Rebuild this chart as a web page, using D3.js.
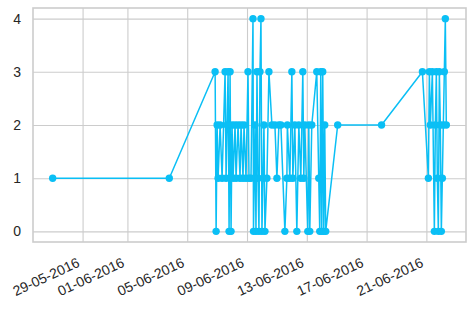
<!DOCTYPE html>
<html>
<head>
<meta charset="utf-8">
<script src="https://cdn.jsdelivr.net/npm/d3@7"></script>
<style>
    html, body { margin: 0; padding: 0; background: #fff; }
    svg { display: block; }
    .tick-label { font-family: "Liberation Sans", Arial, sans-serif; font-size: 14px; fill: #262626; }
</style>
</head>
<body>
<svg id="chart" width="474" height="312"></svg>
<script>
// readings taken as (timestamp, value) pairs
const timestamps = [
    "2016-05-27 00:00", "2016-06-03 19:12", "2016-06-06 20:48", "2016-06-06 22:24",
    "2016-06-07 00:00", "2016-06-07 01:36", "2016-06-07 04:48", "2016-06-07 08:00",
    "2016-06-07 12:48", "2016-06-07 14:24", "2016-06-07 16:00", "2016-06-07 17:36",
    "2016-06-07 19:12", "2016-06-07 20:48", "2016-06-07 22:24", "2016-06-08 00:00",
    "2016-06-08 01:36", "2016-06-08 04:48", "2016-06-08 06:24", "2016-06-08 09:36",
    "2016-06-08 12:48", "2016-06-08 14:24", "2016-06-08 17:36", "2016-06-08 19:12",
    "2016-06-08 22:24", "2016-06-09 01:36", "2016-06-09 03:12", "2016-06-09 06:24",
    "2016-06-09 09:36", "2016-06-09 10:24", "2016-06-09 12:48", "2016-06-09 14:24",
    "2016-06-09 16:00", "2016-06-09 17:36", "2016-06-09 19:12", "2016-06-09 20:48",
    "2016-06-09 22:24", "2016-06-10 00:00", "2016-06-10 01:36", "2016-06-10 03:12",
    "2016-06-10 04:48", "2016-06-10 08:00", "2016-06-10 11:12", "2016-06-10 16:00",
    "2016-06-10 20:48", "2016-06-11 00:00", "2016-06-11 03:12", "2016-06-11 06:24",
    "2016-06-11 12:48", "2016-06-11 16:00", "2016-06-11 16:48", "2016-06-11 20:48",
    "2016-06-12 00:00", "2016-06-12 01:36", "2016-06-12 04:48", "2016-06-12 08:00",
    "2016-06-12 11:12", "2016-06-12 14:24", "2016-06-12 17:36", "2016-06-12 19:12",
    "2016-06-12 20:48", "2016-06-13 01:36", "2016-06-13 03:12", "2016-06-13 04:48",
    "2016-06-13 08:00", "2016-06-13 16:00", "2016-06-13 19:12", "2016-06-13 20:48",
    "2016-06-13 22:24", "2016-06-14 00:00", "2016-06-14 01:36", "2016-06-14 03:12",
    "2016-06-14 04:48", "2016-06-14 06:24", "2016-06-15 01:36", "2016-06-18 00:00",
    "2016-06-20 17:36", "2016-06-21 03:12", "2016-06-21 04:48", "2016-06-21 06:24",
    "2016-06-21 09:36", "2016-06-21 12:48", "2016-06-21 14:24", "2016-06-21 16:00",
    "2016-06-21 17:36", "2016-06-21 19:12", "2016-06-21 20:48", "2016-06-21 22:24",
    "2016-06-22 00:00", "2016-06-22 01:36", "2016-06-22 03:12", "2016-06-22 04:48",
    "2016-06-22 06:24", "2016-06-22 08:00"
];
const values = [
    1, 1, 3, 0,
    2, 1, 2, 1,
    3, 1, 2, 3,
    0, 3, 0, 2,
    1, 2, 1, 2,
    1, 2, 1, 2,
    1, 3, 1, 1,
    4, 0, 2, 0,
    3, 1, 0, 3,
    4, 0, 1, 2,
    0, 1, 3, 2,
    2, 1, 2, 2,
    0, 1, 2, 1,
    3, 1, 2, 0,
    2, 1, 3, 1,
    2, 0, 2, 0,
    2, 3, 1, 0,
    3, 0, 3, 0,
    2, 0, 2, 2,
    3, 1, 3, 2,
    3, 0, 2, 3,
    1, 0, 3, 2,
    0, 1, 2, 3,
    4, 2
];
const x_tick_dates = ["2016-05-29", "2016-06-01", "2016-06-05", "2016-06-09", "2016-06-13", "2016-06-17", "2016-06-21"];
const y_ticks = [0, 1, 2, 3, 4];

function render() {
    const svg = d3.select('#chart');
    const left = 33, right = 466, top = 8, bottom = 242;
    const line_colour = '#0abff5';
    const grid_colour = '#cccccc';

    const parse_time = d3.timeParse('%Y-%m-%d %H:%M');
    const parse_day = d3.timeParse('%Y-%m-%d');
    const points = timestamps.map((t, i) => ({ t: parse_time(t), v: values[i] }));

    // 5% margins on both axes, like the original plotting library
    const [t0, t1] = d3.extent(points, d => d.t);
    const t_pad = (t1 - t0) * 0.05;
    const x = d3.scaleTime()
        .domain([new Date(+t0 - t_pad), new Date(+t1 + t_pad)])
        .range([left, right]);
    const [v0, v1] = d3.extent(points, d => d.v);
    const v_pad = (v1 - v0) * 0.05;
    const y = d3.scaleLinear()
        .domain([v0 - v_pad, v1 + v_pad])
        .range([bottom, top]);

    const tick_dates = x_tick_dates.map(parse_day);
    const fmt = d3.timeFormat('%d-%m-%Y');

    // grid
    svg.append('g')
        .attr('transform', `translate(0,${bottom})`)
        .call(d3.axisBottom(x).tickValues(tick_dates).tickSize(-(bottom - top)).tickFormat(''))
        .call(g => g.select('.domain').remove())
        .call(g => g.selectAll('line').attr('stroke', grid_colour).attr('stroke-width', 1.1));

    svg.append('g')
        .attr('transform', `translate(${left},0)`)
        .call(d3.axisLeft(y).tickValues(y_ticks).tickSize(-(right - left)).tickFormat(''))
        .call(g => g.select('.domain').remove())
        .call(g => g.selectAll('line').attr('stroke', grid_colour).attr('stroke-width', 1.1));

    // frame
    svg.append('rect')
        .attr('x', left).attr('y', top)
        .attr('width', right - left).attr('height', bottom - top)
        .attr('fill', 'none')
        .attr('stroke', grid_colour)
        .attr('stroke-width', 1.6);

    // tick labels
    svg.append('g')
        .selectAll('text')
        .data(y_ticks)
        .join('text')
        .attr('class', 'tick-label')
        .attr('x', 21)
        .attr('y', d => y(d))
        .attr('dy', '0.36em')
        .attr('text-anchor', 'end')
        .text(d => d);

    svg.append('g')
        .selectAll('text')
        .data(tick_dates)
        .join('text')
        .attr('class', 'tick-label')
        .attr('text-anchor', 'end')
        .attr('transform', d => `translate(${x(d) - 2},${bottom + 24}) rotate(-25)`)
        .text(d => fmt(d));

    // series
    svg.append('path')
        .datum(points)
        .attr('fill', 'none')
        .attr('stroke', line_colour)
        .attr('stroke-width', 1.5)
        .attr('stroke-linejoin', 'round')
        .attr('d', d3.line().x(d => x(d.t)).y(d => y(d.v)));

    svg.append('g')
        .selectAll('circle')
        .data(points)
        .join('circle')
        .attr('cx', d => x(d.t))
        .attr('cy', d => y(d.v))
        .attr('r', 3.7)
        .attr('fill', line_colour);
}

render();
</script>
</body>
</html>
